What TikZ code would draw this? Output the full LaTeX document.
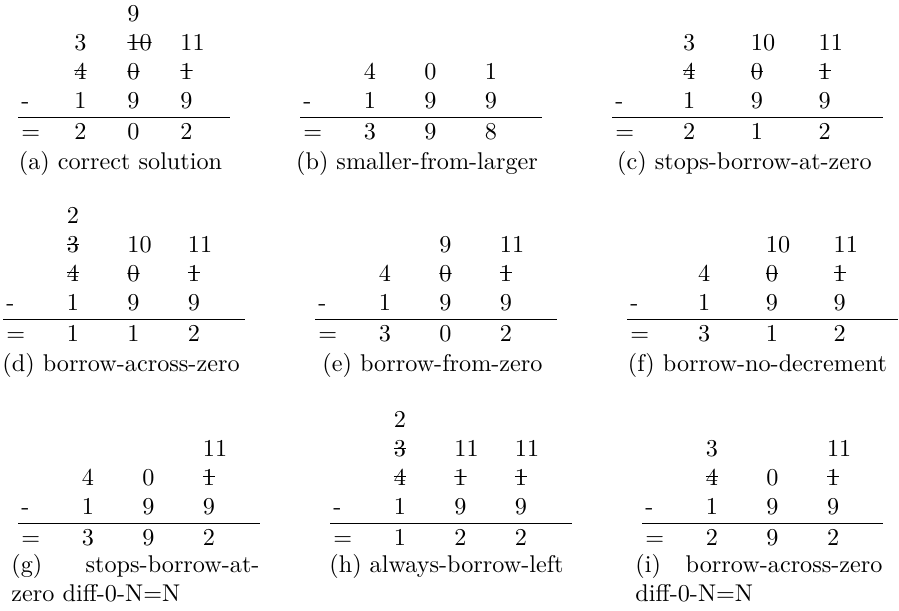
\documentclass[tikz,border=0pt]{standalone}
\usepackage{tikz}
\tikzset{
  digit/.style={anchor=base west,inner sep=0pt},
  crossed/.style={digit,path picture={\draw[line width=0.4pt]
    (path picture bounding box.west) -- (path picture bounding box.east);}},
  sumrule/.style={line width=0.4pt},
  subcap/.style={anchor=base,inner sep=0pt}
}

\begin{document}
\begin{tikzpicture}[x=0.4132pt,y=-0.4132pt]
  \useasboundingbox (0,0) rectangle (899,610);
  % (a)
  \node[digit] (a02) at (127,21) {9};
  \node[digit] (a11) at (74,50) {3};
  \node[crossed] (a12) at (127,50) {10};
  \node[digit] (a13) at (180,50) {11};
  \node[crossed] (a21) at (74,79) {4};
  \node[crossed] (a22) at (127,79) {0};
  \node[crossed] (a23) at (180,79) {1};
  \node[digit] (a3s) at (21,108) {-};
  \node[digit] (a31) at (74,108) {1};
  \node[digit] (a32) at (127,108) {9};
  \node[digit] (a33) at (180,108) {9};
  \draw[sumrule] (18,117) -- (230,117);
  \node[digit] (a4s) at (21,139) {=};
  \node[digit] (a41) at (74,139) {2};
  \node[digit] (a42) at (127,139) {0};
  \node[digit] (a43) at (180,139) {2};
  \node[subcap] (acap) at (120.5,169) {(a) correct solution};
  % (b)
  \node[digit] (b21) at (363.5,79) {4};
  \node[digit] (b22) at (424,79) {0};
  \node[digit] (b23) at (484.5,79) {1};
  \node[digit] (b3s) at (303,108) {-};
  \node[digit] (b31) at (363.5,108) {1};
  \node[digit] (b32) at (424,108) {9};
  \node[digit] (b33) at (484.5,108) {9};
  \draw[sumrule] (300,117) -- (542,117);
  \node[digit] (b4s) at (303,139) {=};
  \node[digit] (b41) at (363.5,139) {3};
  \node[digit] (b42) at (424,139) {9};
  \node[digit] (b43) at (484.5,139) {8};
  \node[subcap] (bcap) at (417,169) {(b) smaller-from-larger};
  % (c)
  \node[digit] (c11) at (682.75,50) {3};
  \node[digit] (c12) at (750.5,50) {10};
  \node[digit] (c13) at (818.25,50) {11};
  \node[crossed] (c21) at (682.75,79) {4};
  \node[crossed] (c22) at (750.5,79) {0};
  \node[crossed] (c23) at (818.25,79) {1};
  \node[digit] (c3s) at (615,108) {-};
  \node[digit] (c31) at (682.75,108) {1};
  \node[digit] (c32) at (750.5,108) {9};
  \node[digit] (c33) at (818.25,108) {9};
  \draw[sumrule] (612,117) -- (883,117);
  \node[digit] (c4s) at (615,139) {=};
  \node[digit] (c41) at (682.75,139) {2};
  \node[digit] (c42) at (750.5,139) {1};
  \node[digit] (c43) at (818.25,139) {2};
  \node[subcap] (ccap) at (744.5,169) {(c) stops-borrow-at-zero};
  % (d)
  \node[digit] (d01) at (66.5,223) {2};
  \node[crossed] (d11) at (66.5,252) {3};
  \node[digit] (d12) at (127,252) {10};
  \node[digit] (d13) at (187.5,252) {11};
  \node[crossed] (d21) at (66.5,281) {4};
  \node[crossed] (d22) at (127,281) {0};
  \node[crossed] (d23) at (187.5,281) {1};
  \node[digit] (d3s) at (6,310) {-};
  \node[digit] (d31) at (66.5,310) {1};
  \node[digit] (d32) at (127,310) {9};
  \node[digit] (d33) at (187.5,310) {9};
  \draw[sumrule] (3,319) -- (245,319);
  \node[digit] (d4s) at (6,341) {=};
  \node[digit] (d41) at (66.5,341) {1};
  \node[digit] (d42) at (127,341) {1};
  \node[digit] (d43) at (187.5,341) {2};
  \node[subcap] (dcap) at (121,371) {(d) borrow-across-zero};
  % (e)
  \node[digit] (e12) at (439,252) {9};
  \node[digit] (e13) at (499.5,252) {11};
  \node[digit] (e21) at (378.5,281) {4};
  \node[crossed] (e22) at (439,281) {0};
  \node[crossed] (e23) at (499.5,281) {1};
  \node[digit] (e3s) at (318,310) {-};
  \node[digit] (e31) at (378.5,310) {1};
  \node[digit] (e32) at (439,310) {9};
  \node[digit] (e33) at (499.5,310) {9};
  \draw[sumrule] (315,319) -- (557,319);
  \node[digit] (e4s) at (318,341) {=};
  \node[digit] (e41) at (378.5,341) {3};
  \node[digit] (e42) at (439,341) {0};
  \node[digit] (e43) at (499.5,341) {2};
  \node[subcap] (ecap) at (432.5,371) {(e) borrow-from-zero};
  % (f)
  \node[digit] (f12) at (765.5,252) {10};
  \node[digit] (f13) at (833.25,252) {11};
  \node[digit] (f21) at (697.75,281) {4};
  \node[crossed] (f22) at (765.5,281) {0};
  \node[crossed] (f23) at (833.25,281) {1};
  \node[digit] (f3s) at (630,310) {-};
  \node[digit] (f31) at (697.75,310) {1};
  \node[digit] (f32) at (765.5,310) {9};
  \node[digit] (f33) at (833.25,310) {9};
  \draw[sumrule] (627,319) -- (898,319);
  \node[digit] (f4s) at (630,341) {=};
  \node[digit] (f41) at (697.75,341) {3};
  \node[digit] (f42) at (765.5,341) {1};
  \node[digit] (f43) at (833.25,341) {2};
  \node[subcap] (fcap) at (757.5,371) {(f) borrow-no-decrement};
  % (g)
  \node[digit] (g13) at (202.5,456) {11};
  \node[digit] (g21) at (81.5,485) {4};
  \node[digit] (g22) at (142,485) {0};
  \node[crossed] (g23) at (202.5,485) {1};
  \node[digit] (g3s) at (21,514) {-};
  \node[digit] (g31) at (81.5,514) {1};
  \node[digit] (g32) at (142,514) {9};
  \node[digit] (g33) at (202.5,514) {9};
  \draw[sumrule] (18,523) -- (260,523);
  \node[digit] (g4s) at (21,545) {=};
  \node[digit] (g41) at (81.5,545) {3};
  \node[digit] (g42) at (142,545) {9};
  \node[digit] (g43) at (202.5,545) {2};
  \node[digit] (gcap) at (11,572) {(g)};
  \node[digit,anchor=base east] (gcapa) at (260,572) {stops-borrow-at-};
  \node[digit] (gcapb) at (11,601) {zero diff-0-N=N};
  % (h)
  \node[digit] (h01) at (393.5,427) {2};
  \node[crossed] (h11) at (393.5,456) {3};
  \node[digit] (h12) at (454,456) {11};
  \node[digit] (h13) at (514.5,456) {11};
  \node[crossed] (h21) at (393.5,485) {4};
  \node[crossed] (h22) at (454,485) {1};
  \node[crossed] (h23) at (514.5,485) {1};
  \node[digit] (h3s) at (333,514) {-};
  \node[digit] (h31) at (393.5,514) {1};
  \node[digit] (h32) at (454,514) {9};
  \node[digit] (h33) at (514.5,514) {9};
  \draw[sumrule] (330,523) -- (572,523);
  \node[digit] (h4s) at (333,545) {=};
  \node[digit] (h41) at (393.5,545) {1};
  \node[digit] (h42) at (454,545) {2};
  \node[digit] (h43) at (514.5,545) {2};
  \node[subcap] (hcap) at (446.5,572) {(h) always-borrow-left};
  % (i)
  \node[digit] (i11) at (705.5,456) {3};
  \node[digit] (i13) at (826.5,456) {11};
  \node[crossed] (i21) at (705.5,485) {4};
  \node[digit] (i22) at (766,485) {0};
  \node[crossed] (i23) at (826.5,485) {1};
  \node[digit] (i3s) at (645,514) {-};
  \node[digit] (i31) at (705.5,514) {1};
  \node[digit] (i32) at (766,514) {9};
  \node[digit] (i33) at (826.5,514) {9};
  \draw[sumrule] (642,523) -- (883,523);
  \node[digit] (i4s) at (645,545) {=};
  \node[digit] (i41) at (705.5,545) {2};
  \node[digit] (i42) at (766,545) {9};
  \node[digit] (i43) at (826.5,545) {2};
  \node[digit] (icap) at (635,572) {(i)};
  \node[digit,anchor=base east] (icapa) at (883,572) {borrow-across-zero};
  \node[digit] (icapb) at (635,601) {diff-0-N=N};
\end{tikzpicture}
\end{document}
